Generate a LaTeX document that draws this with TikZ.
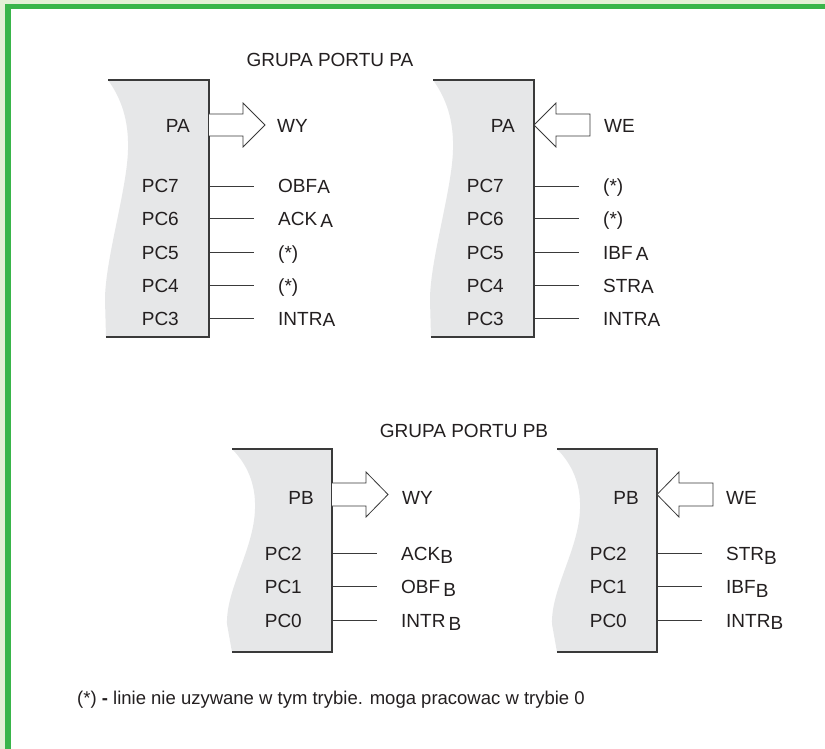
\documentclass[tikz,border=0pt]{standalone}
\usepackage{fontspec}
\setmainfont{Liberation Sans}
\definecolor{framegreen}{HTML}{39B54A}
\definecolor{lightgreen}{HTML}{E3F0D6}
\definecolor{boxgray}{HTML}{E6E7E8}
\definecolor{inkgray}{HTML}{3A3A3A}
\definecolor{txt}{HTML}{231F20}
\newcommand\lowsig[2]{\raisebox{-#1pt}{#2}}
\newcommand\sigrow[5]{%
  \node[lbl, anchor=base east] (#1l) at (#2-30,#3+7) {#4};
  \coordinate (#1s) at (#2,#3);
  \coordinate (#1e) at (#2+45,#3);
  \draw[sigline] (#1s) -- (#1e);
  \node[lbl, anchor=base west] (#1r) at (#2+69,#3+7) {#5};
}
\begin{document}
\begin{tikzpicture}[x=1pt,y=-1pt,
  lbl/.style={inner sep=0pt, text=txt, font=\fontsize{19}{22}\selectfont},
  sigline/.style={draw=inkgray, line width=0.9pt},
  boxedge/.style={draw=inkgray, line width=1.1pt},
  bigarrow/.style={draw=inkgray, fill=white, line width=0.8pt, line join=miter}]
\useasboundingbox (0,0) rectangle (825,749);
\fill[white] (0,0) rectangle (825,749);
% frame
\fill[lightgreen] (0,0) rectangle (825,4);
\fill[lightgreen] (0,0) rectangle (5,749);
\fill[framegreen] (5,4) rectangle (825,9.5);
\fill[framegreen] (5,4) rectangle (10.5,749);

% titles
\node[lbl, anchor=base] (titleA) at (330,67) {GRUPA PORTU PA};
\node[lbl, anchor=base] (titleB) at (464,437) {GRUPA PORTU PB};

% ---------- upper boxes ----------
\foreach \ex in {209,534}{
  \begin{scope}[shift={(\ex,80)}]
    \fill[boxgray] (0,0) -- (-101,0) .. controls (-88,18) and (-80,40) .. (-81,70)
      .. controls (-82,110) and (-104,180) .. (-104,220) -- (-103,257) -- (0,257) -- cycle;
    \draw[boxedge] (-101,0) -- (0,0) -- (0,257) -- (-103,257);
  \end{scope}
}
% ---------- lower boxes ----------
\foreach \ex in {332,657}{
  \begin{scope}[shift={(\ex,449)}]
    \fill[boxgray] (0,0) -- (-100,0) .. controls (-85,15) and (-76,35) .. (-77,60)
      .. controls (-78,100) and (-106,140) .. (-105,175) -- (-100,203) -- (0,203) -- cycle;
    \draw[boxedge] (-100,0) -- (0,0) -- (0,203) -- (-100,203);
  \end{scope}
}

% ---------- big arrows ----------
% box 1 : out
\draw[bigarrow] (209,114) -- (243,114) -- (243,103) -- (265,125) -- (243,147) -- (243,136) -- (209,136);
% box 2 : in
\draw[bigarrow] (534,125) -- (556,103) -- (556,114) -- (590,114) -- (590,136) -- (556,136) -- (556,147) -- cycle;
% box 3 : out
\draw[bigarrow] (332,483) -- (366,483) -- (366,472) -- (388,494.5) -- (366,517) -- (366,506) -- (332,506);
% box 4 : in
\draw[bigarrow] (657,494.5) -- (679,472) -- (679,483) -- (713,483) -- (713,506) -- (679,506) -- (679,517) -- cycle;

% port labels
\node[lbl, anchor=base east] (pa1) at (190,133) {PA};
\node[lbl, anchor=base west] (wy1) at (277,133) {WY};
\node[lbl, anchor=base east] (pa2) at (515,133) {PA};
\node[lbl, anchor=base west] (we2) at (604,133) {WE};
\node[lbl, anchor=base east] (pb3) at (314,504) {PB};
\node[lbl, anchor=base west] (wy3) at (402,504) {WY};
\node[lbl, anchor=base east] (pb4) at (639,504) {PB};
\node[lbl, anchor=base west] (we4) at (726,504) {WE};

% ---------- signal rows ----------
\sigrow{a7}{209}{186}{PC7}{OBF\lowsig{1}{A}}
\sigrow{a6}{209}{218}{PC6}{ACK\,\lowsig{2}{A}}
\sigrow{a5}{209}{252}{PC5}{(*)}
\sigrow{a4}{209}{285}{PC4}{(*)}
\sigrow{a3}{209}{318}{PC3}{INTR\lowsig{1}{A}}

\sigrow{b7}{534}{186}{PC7}{(*)}
\sigrow{b6}{534}{218}{PC6}{(*)}
\sigrow{b5}{534}{252}{PC5}{IBF\,\lowsig{1.5}{A}}
\sigrow{b4}{534}{285}{PC4}{STR\lowsig{1}{A}}
\sigrow{b3}{534}{318}{PC3}{INTR\lowsig{1}{A}}

\sigrow{c2}{332}{553}{PC2}{ACK\lowsig{3}{B}}
\sigrow{c1}{332}{586}{PC1}{OBF\,\lowsig{3}{B}}
\sigrow{c0}{332}{620}{PC0}{INTR\,\lowsig{3.5}{B}}

\sigrow{d2}{657}{553}{PC2}{STR\lowsig{4}{B}}
\sigrow{d1}{657}{586}{PC1}{IBF\lowsig{4}{B}}
\sigrow{d0}{657}{620}{PC0}{INTR\lowsig{2}{B}}

% footnote
\node[lbl, anchor=base west, font=\fontsize{18.5}{22}\selectfont] (note) at (77,704)
  {(*) \textbf{-} linie nie uzywane w tym trybie. moga pracowac w trybie 0};
\end{tikzpicture}
\end{document}
